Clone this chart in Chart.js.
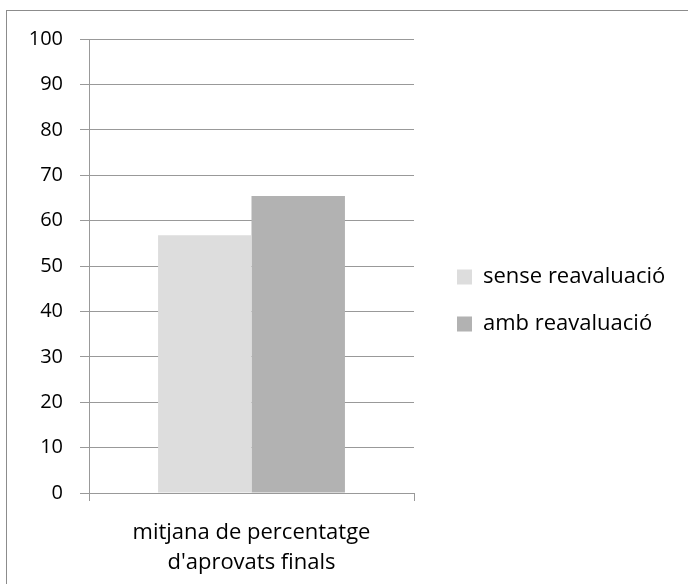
<!DOCTYPE html>
<html>
<head>
<meta charset="utf-8">
<script src="https://cdn.jsdelivr.net/npm/chart.js@4"></script>
<style>
  html, body { margin: 0; padding: 0; background: #fff; }
  #wrap { position: relative; width: 688px; height: 584px; overflow: hidden; }
  #frame {
    position: absolute; left: 6px; top: 10px; width: 700px; height: 600px;
    border-top: 1px solid #8c8c8c; border-left: 1px solid #8c8c8c;
    pointer-events: none;
  }
  canvas { position: absolute; left: 0; top: 0; }
</style>
</head>
<body>
<div id="wrap">
  <canvas id="chart" width="688" height="584"></canvas>
  <div id="frame"></div>
</div>
<script>
const CATEGORIES = [["mitjana de percentatge", "d'aprovats finals"]];
const SERIES_NAMES = ["sense reavaluació", "amb reavaluació"];
const SENSE_REAVALUACIO = [56.8];
const AMB_REAVALUACIO = [65.4];
const Y_MIN = 0;
const Y_MAX = 100;
const Y_STEP = 10;

const GRID = "#999999";
const FONT = "'Open Sans', 'Noto Sans', sans-serif";
const TEXT_SIZE = 22;

// legend geometry: plot right edge at 414, legend boxes start at 457
const PLOT_RIGHT = 414;
const LEGEND_PAD = 25;
const LEGEND_BOX = 15;
const LEGEND_GAP = 457 - PLOT_RIGHT - LEGEND_PAD;

const ctx = document.getElementById("chart").getContext("2d");

// work out how wide Chart.js will make the legend so the plot ends where it should
ctx.font = TEXT_SIZE + "px " + FONT;
const widestLabel = Math.max(...SERIES_NAMES.map((s) => ctx.measureText(s).width));
const legendWidth = LEGEND_PAD + LEGEND_BOX + TEXT_SIZE / 2 + widestLabel + 10;
const padRight = Math.max(0, 688 - PLOT_RIGHT - LEGEND_GAP - legendWidth);

new Chart(ctx, {
  type: "bar",
  data: {
    labels: CATEGORIES,
    datasets: [
      {
        label: SERIES_NAMES[0],
        data: SENSE_REAVALUACIO,
        backgroundColor: "#dddddd",
        borderWidth: 0,
      },
      {
        label: SERIES_NAMES[1],
        data: AMB_REAVALUACIO,
        backgroundColor: "#b2b2b2",
        borderWidth: 0,
      },
    ],
  },
  options: {
    responsive: false,
    animation: false,
    barPercentage: 1,
    categoryPercentage: 0.575,
    layout: { padding: { top: 39, bottom: 0, left: 0, right: padRight } },
    scales: {
      x: {
        grid: {
          offset: true,
          drawOnChartArea: false,
          drawTicks: true,
          tickLength: 8,
          color: GRID,
        },
        border: { display: true, color: GRID },
        ticks: {
          color: "#000",
          font: { family: FONT, size: TEXT_SIZE, lineHeight: 1.35 },
          padding: 17,
          maxRotation: 0,
        },
        afterFit: (s) => { s.height = 91; },
      },
      y: {
        min: Y_MIN,
        max: Y_MAX,
        grid: { color: GRID, tickLength: 9 },
        border: { display: true, color: GRID },
        ticks: {
          stepSize: Y_STEP,
          color: "#000",
          font: { family: FONT, size: 20 },
          padding: 17,
        },
        afterFit: (s) => { s.width = 89; },
      },
      gap: {
        type: "linear",
        position: "right",
        display: true,
        grid: { display: false },
        border: { display: false },
        ticks: { display: false },
        afterFit: (s) => { s.width = LEGEND_GAP; },
      },
    },
    plugins: {
      legend: {
        position: "right",
        align: "start",
        maxWidth: 400,
        // empty title only pushes the two items down to mid-height
        title: {
          display: true,
          text: " ",
          font: { family: FONT, size: 20, lineHeight: 1.2 },
          padding: { top: 178, bottom: 0 },
        },
        labels: {
          boxWidth: LEGEND_BOX,
          boxHeight: LEGEND_BOX,
          padding: LEGEND_PAD,
          color: "#000",
          font: { family: FONT, size: TEXT_SIZE },
        },
      },
      tooltip: { enabled: false },
    },
  },
});
</script>
</body>
</html>
